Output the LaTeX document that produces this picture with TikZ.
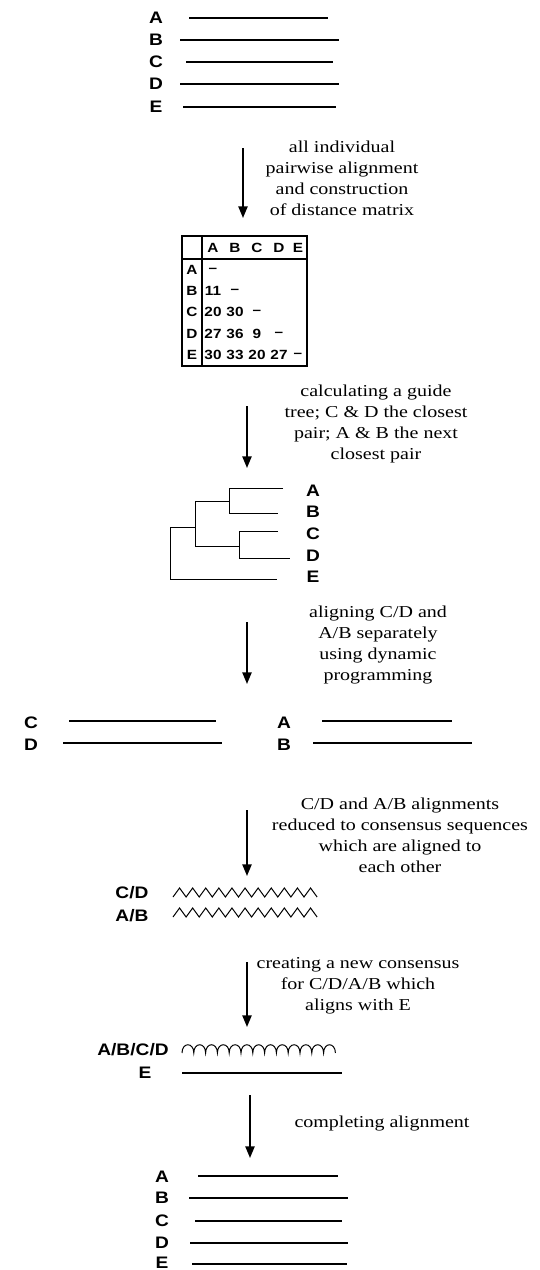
\documentclass[tikz,border=0pt]{standalone}
\usepackage{fontspec}
\setmainfont[FakeStretch=1.2]{Liberation Serif}
\newfontfamily\labelfont[FakeStretch=1.15]{Liberation Sans}
\usetikzlibrary{arrows.meta}

\begin{document}
\begin{tikzpicture}[
    x=0.6pt, y=-0.6pt,
    lbl/.style={inner sep=0pt, font={\labelfont\bfseries\fontsize{10}{11}\selectfont}},
    cell/.style={inner sep=0pt, font={\labelfont\bfseries\fontsize{8}{9}\selectfont}},
    note/.style={align=center, inner sep=0pt, font={\fontsize{10}{12.6}\selectfont}},
    seq/.style={line width=0.8pt},
    branch/.style={line width=0.6pt},
    grid/.style={line width=0.7pt},
    arrow/.style={-{Triangle[length=7pt,width=5.5pt]}, line width=1.1pt}
]
\useasboundingbox (0,0) rectangle (540,1270);

% unaligned sequences
\node[lbl] (topA) at (156,18) {A};
\node[lbl] (topB) at (156,40) {B};
\node[lbl] (topC) at (156,62) {C};
\node[lbl] (topD) at (156,84) {D};
\node[lbl] (topE) at (156,107) {E};
\draw[seq] (189,18) -- (328,18);
\draw[seq] (180,40) -- (339,40);
\draw[seq] (186,62) -- (333,62);
\draw[seq] (180,84) -- (339,84);
\draw[seq] (183,107) -- (336,107);

\coordinate (s1) at (243,148);
\coordinate (e1) at (243,218);
\draw[arrow] (s1) -- (e1);
\node[note] (txt1) at (342,178) {all individual\\pairwise alignment\\and construction\\of distance matrix};

% distance matrix
\draw[grid] (182,236) rectangle (307,366);
\draw[grid] (202,236) -- (202,366);
\draw[grid] (182,259) -- (307,259);
\foreach \c/\x in {A/213,B/235,C/257,D/279,E/298}
  \node[cell] (col\c) at (\x,248) {\c};
\foreach \r/\y in {A/270,B/291,C/312,D/334,E/355}
  \node[cell] (row\r) at (192,\y) {\r};
\foreach \r/\c/\v in {A/A/–,B/A/11,B/B/–,C/A/20,C/B/30,C/C/–,D/A/27,D/B/36,D/C/9,D/D/–,E/A/30,E/B/33,E/C/20,E/D/27,E/E/–}
  \node[cell] (m\r\c) at (col\c |- row\r) {\v};

\coordinate (s2) at (247,406);
\coordinate (e2) at (247,468);
\draw[arrow] (s2) -- (e2);
\node[note] (txt2) at (376,424) {calculating a guide\\tree; C \& D the closest\\pair; A \& B the next\\closest pair};

% guide tree
\draw[branch] (283,488) -| (229,513) -- (278,513);
\draw[branch] (278,531) -| (239,558) -- (290,558);
\draw[branch] (229,501) -| (195,546) -- (239,546);
\draw[branch] (195,527) -| (170,579) -- (277,579);
\node[lbl] (leafA) at (313,491) {A};
\node[lbl] (leafB) at (313,512) {B};
\node[lbl] (leafC) at (313,534) {C};
\node[lbl] (leafD) at (313,556) {D};
\node[lbl] (leafE) at (313,577) {E};

\coordinate (s3) at (247,622);
\coordinate (e3) at (247,684);
\draw[arrow] (s3) -- (e3);
\node[note] (txt3) at (378,645) {aligning C/D and\\A/B separately\\using dynamic\\programming};

% pairwise alignments
\node[lbl] (pairC) at (31,723) {C};
\node[lbl] (pairD) at (31,745) {D};
\draw[seq] (69,721) -- (216,721);
\draw[seq] (63,743) -- (222,743);
\node[lbl] (pairA) at (284,723) {A};
\node[lbl] (pairB) at (284,745) {B};
\draw[seq] (322,721) -- (452,721);
\draw[seq] (313,743) -- (472,743);

\coordinate (s4) at (247,810);
\coordinate (e4) at (247,876);
\draw[arrow] (s4) -- (e4);
\node[note] (txt4) at (400,835) {C/D and A/B alignments\\reduced to consensus sequences\\which are aligned to\\each other};

% consensus sequences
\node[lbl] (consCD) at (132,893) {C/D};
\node[lbl] (consAB) at (132,916) {A/B};
\draw[branch] (173,897) \foreach \i in {1,...,11} { -- ++(6.55,-9) -- ++(6.55,9) };
\draw[branch] (173,917) \foreach \i in {1,...,11} { -- ++(6.55,-9) -- ++(6.55,9) };

\coordinate (s5) at (247,962);
\coordinate (e5) at (247,1027);
\draw[arrow] (s5) -- (e5);
\node[note] (txt5) at (358,986) {creating a new consensus\\for C/D/A/B which\\aligns with E};

% new consensus against E
\node[lbl] (consABCD) at (133,1050) {A/B/C/D};
\node[lbl] (consE) at (145,1073) {E};
\draw[branch] (182,1053) \foreach \i in {1,...,13} { .. controls +(0,-11) and +(0,-11) .. ++(11.8,0) };
\draw[seq] (182,1073) -- (342,1073);

\coordinate (s6) at (250,1095);
\coordinate (e6) at (250,1158);
\draw[arrow] (s6) -- (e6);
\node[note] (txt6) at (382,1124) {completing alignment};

% final alignment
\node[lbl] (endA) at (162,1177) {A};
\node[lbl] (endB) at (162,1198) {B};
\node[lbl] (endC) at (162,1221) {C};
\node[lbl] (endD) at (162,1243) {D};
\node[lbl] (endE) at (162,1263) {E};
\draw[seq] (198,1176) -- (338,1176);
\draw[seq] (189,1198) -- (348,1198);
\draw[seq] (195,1221) -- (342,1221);
\draw[seq] (190,1243) -- (348,1243);
\draw[seq] (192,1264) -- (347,1264);

\end{tikzpicture}
\end{document}
